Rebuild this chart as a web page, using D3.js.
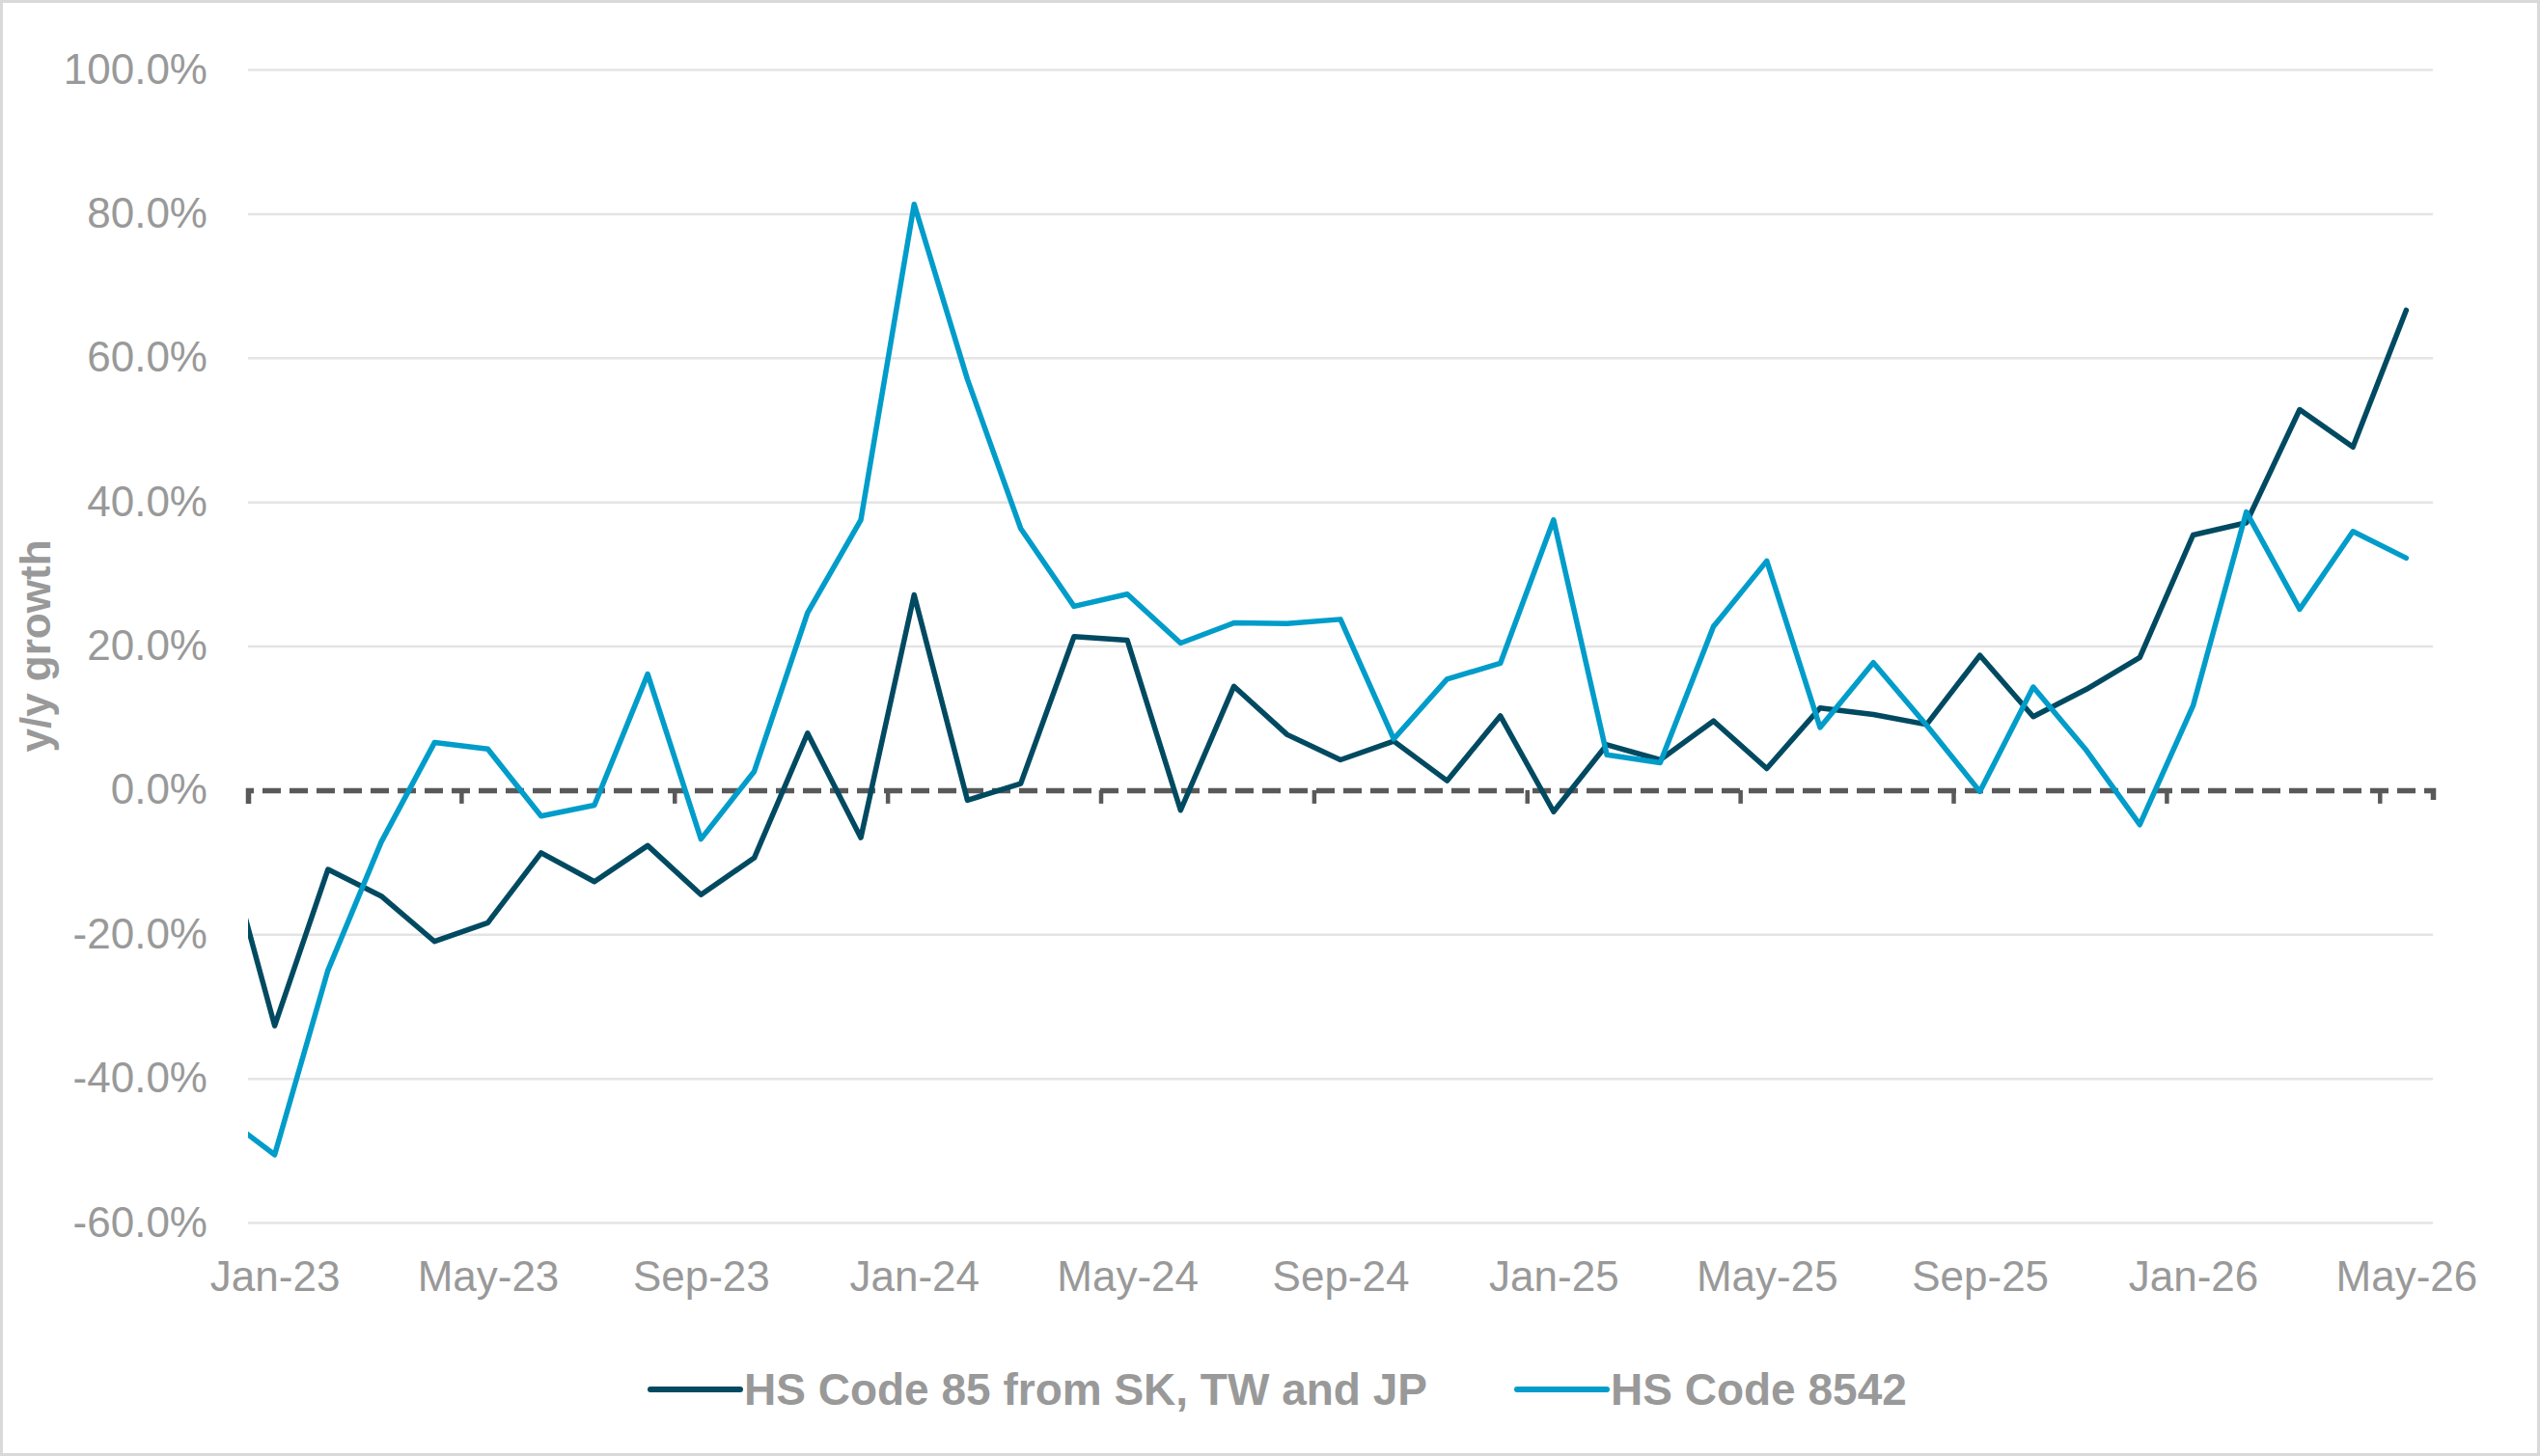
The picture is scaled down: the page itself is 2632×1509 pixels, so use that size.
<!DOCTYPE html>
<html>
<head>
<meta charset="utf-8">
<script src="https://cdn.jsdelivr.net/npm/d3@7"></script>
<style>
  body { margin: 0; background: #ffffff; }
  svg { display: block; }
</style>
</head>
<body>
<div id="chart"></div>
<script>
// month categories, Dec-22 is only partly visible at the left edge
var months = ["Dec-22",
  "Jan-23","Feb-23","Mar-23","Apr-23","May-23","Jun-23","Jul-23","Aug-23","Sep-23","Oct-23","Nov-23","Dec-23",
  "Jan-24","Feb-24","Mar-24","Apr-24","May-24","Jun-24","Jul-24","Aug-24","Sep-24","Oct-24","Nov-24","Dec-24",
  "Jan-25","Feb-25","Mar-25","Apr-25","May-25","Jun-25","Jul-25","Aug-25","Sep-25","Oct-25","Nov-25","Dec-25",
  "Jan-26","Feb-26","Mar-26","Apr-26","May-26"];

// y/y growth in %
var hs85 = [-5.5,
  -32.7, -11.0, -14.7, -21.0, -18.4, -8.7, -12.7, -7.7, -14.5, -9.4, 7.9, -6.6,
  27.1, -1.4, 0.9, 21.3, 20.8, -2.8, 14.4, 7.7, 4.2, 6.8, 1.3, 10.3,
  -3.0, 6.3, 4.2, 9.6, 3.0, 11.4, 10.5, 9.1, 18.7, 10.2, 14.0, 18.4,
  35.4, 37.1, 52.8, 47.6, 66.6];

var hs8542 = [-45.0,
  -50.6, -25.0, -7.2, 6.6, 5.7, -3.6, -2.1, 16.1, -6.8, 2.6, 24.6, 37.5,
  81.3, 57.0, 36.3, 25.5, 27.2, 20.4, 23.2, 23.1, 23.7, 7.1, 15.4, 17.6,
  37.5, 4.9, 3.8, 22.7, 31.8, 8.7, 17.7, 9.0, -0.2, 14.3, 5.5, -4.8,
  11.7, 38.6, 25.1, 35.9, 32.2];

var seriesNames = ["HS Code 85 from SK, TW and JP", "HS Code 8542"];
var seriesColors = ["#004a61", "#009cca"];

var yTicks = [-60, -40, -20, 0, 20, 40, 60, 80, 100];
var xTickLabels = ["Jan-23","May-23","Sep-23","Jan-24","May-24","Sep-24","Jan-25","May-25","Sep-25","Jan-26","May-26"];

// set the dimensions of the graph
var W = 2632, H = 1509;
var plot = {left: 257, right: 2521, top: 72, bottom: 1267};
var font = "'Liberation Sans', Arial, sans-serif";

var svg = d3.select("#chart")
  .append("svg")
    .attr("width", W)
    .attr("height", H);

// outer chart border
svg.append("rect")
  .attr("x", 1.5).attr("y", 1.5)
  .attr("width", W - 3).attr("height", H - 3)
  .attr("fill", "#ffffff")
  .attr("stroke", "#d9d9d9")
  .attr("stroke-width", 3);

// x: month index, categories sit between boundaries (Jan-23 = 1)
var x = d3.scaleLinear()
  .domain([0.5, months.length - 0.5])
  .range([plot.left, plot.right]);

var y = d3.scaleLinear()
  .domain([-60, 100])
  .range([plot.bottom, plot.top]);

// gridlines + y labels
var yAxis = svg.append("g")
  .attr("transform", "translate(" + plot.left + ",0)")
  .call(d3.axisLeft(y)
    .tickValues(yTicks)
    .tickSize(-(plot.right - plot.left))
    .tickPadding(42)
    .tickFormat(function(d){ return d.toFixed(1) + "%"; }));
yAxis.select(".domain").remove();
yAxis.selectAll(".tick line")
  .attr("stroke-width", 2.5)
  .attr("stroke", function(d){ return d === 0 ? "none" : "#e4e4e4"; });
yAxis.selectAll(".tick text")
  .attr("fill", "#999999")
  .attr("font-family", font)
  .attr("font-size", "44px");

// x labels at the bottom of the plot
var xLabels = svg.append("g")
  .attr("transform", "translate(0," + plot.bottom + ")")
  .call(d3.axisBottom(x)
    .tickValues(xTickLabels.map(function(m){ return months.indexOf(m); }))
    .tickSize(0)
    .tickPadding(40)
    .tickFormat(function(i){ return months[i]; }));
xLabels.select(".domain").remove();
xLabels.selectAll(".tick text")
  .attr("fill", "#999999")
  .attr("font-family", font)
  .attr("font-size", "44px");

// dashed zero axis with tick marks every 4 months
var boundaries = d3.range(0, xTickLabels.length).map(function(k){ return 0.5 + 4 * k; });
var zeroAxis = svg.append("g")
  .attr("transform", "translate(0," + y(0) + ")")
  .call(d3.axisBottom(x)
    .tickValues(boundaries)
    .tickSizeOuter(0)
    .tickSize(14)
    .tickFormat(""));
zeroAxis.select(".domain")
  .attr("stroke", "#595959")
  .attr("stroke-width", 5.5)
  .attr("stroke-dasharray", "19,9");
zeroAxis.selectAll(".tick line")
  .attr("stroke", "#595959")
  .attr("stroke-width", 4.5);

// clip lines to the plot area
svg.append("clipPath")
  .attr("id", "plotclip")
  .append("rect")
    .attr("x", plot.left).attr("y", 0)
    .attr("width", plot.right - plot.left).attr("height", H);

var line = d3.line()
  .x(function(d, i){ return x(i); })
  .y(function(d){ return y(d); });

var series = [hs85, hs8542];
svg.append("g")
  .attr("clip-path", "url(#plotclip)")
  .selectAll("path")
  .data(series)
  .enter()
  .append("path")
    .attr("d", line)
    .attr("fill", "none")
    .attr("stroke", function(d, i){ return seriesColors[i]; })
    .attr("stroke-width", 5.5)
    .attr("stroke-linejoin", "round")
    .attr("stroke-linecap", "round");

// y axis title
svg.append("text")
  .attr("transform", "translate(52," + ((plot.top + plot.bottom) / 2) + ") rotate(-90)")
  .attr("text-anchor", "middle")
  .attr("font-family", font)
  .attr("font-size", "44px")
  .attr("font-weight", "bold")
  .attr("fill", "#999999")
  .text("y/y growth");

// legend
var legendX = [672, 1570];
var legend = svg.selectAll(".legend")
  .data(seriesNames)
  .enter()
  .append("g")
    .attr("class", "legend")
    .attr("transform", function(d, i){ return "translate(" + legendX[i] + ",1440)"; });
legend.append("line")
  .attr("x1", 2).attr("x2", 95)
  .attr("stroke", function(d, i){ return seriesColors[i]; })
  .attr("stroke-width", 6)
  .attr("stroke-linecap", "round");
legend.append("text")
  .attr("x", 99)
  .attr("dy", "0.35em")
  .attr("font-family", font)
  .attr("font-size", "46px")
  .attr("font-weight", "bold")
  .attr("fill", "#999999")
  .text(function(d){ return d; });
</script>
</body>
</html>
